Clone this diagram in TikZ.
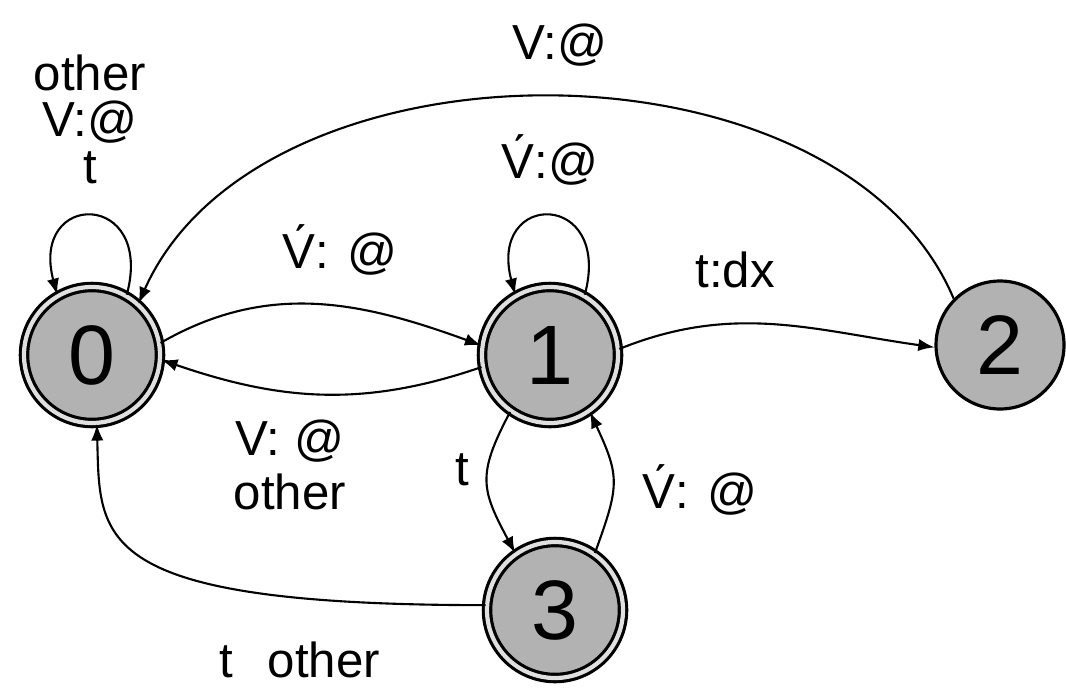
\documentclass[tikz,border=0pt]{standalone}
\usepackage{fontspec}
\setmainfont{Liberation Sans}
\usepackage{tikz}

\begin{document}
\begin{tikzpicture}[
  state/.style={circle, draw, line width=0.9pt, fill=black!30, minimum size=1.28cm, inner sep=0pt, font=\fontsize{24}{24}\selectfont},
  accept/.style={state, minimum size=1.36cm, double=black!12, double distance=1.2pt},
  lbl/.style={font=\fontsize{14}{13.2}\selectfont, align=center, inner sep=0pt},
  arc/.style={->, >=latex, line width=0.6pt}
]
\useasboundingbox (0, 0) rectangle (10.66, 6.89);

\node[accept] (s0) at (0.92, 3.34) {0};
\node[accept] (s1) at (5.50, 3.34) {1};
\node[state] (s2) at (10.00, 3.44) {2};
\node[accept] (s3) at (5.55, 0.79) {3};

\node[lbl] (l00) at (0.90, 5.70) {other\\V:@\\t};
\node[lbl] (l20) at (5.60, 6.44) {V:@};
\node[lbl] (l11) at (5.50, 5.29) {\'V:@};
\node[lbl] (l01) at (3.40, 4.39) {\'V: @};
\node[lbl] (l12) at (7.35, 4.19) {t:dx};
\node[lbl] (l10) at (2.90, 2.24) {V: @\\[2pt]other};
\node[lbl] (l13) at (4.62, 2.19) {t};
\node[lbl] (l31) at (7.00, 1.99) {\'V: @};
\node[lbl] (l30) at (3.00, 0.29) {t\hspace{0.7em}other};

\draw[arc] (s0.60) to[out=75, in=105, looseness=4] (s0.120);
\draw[arc] (s1.60) to[out=75, in=105, looseness=4] (s1.120);
\draw[arc] (s2.135) .. controls (8.4, 6.6) and (2.6, 6.6) .. (s0.48);
\draw[arc] (s0.10) to[out=30, in=160] (s1.172);
\draw[arc] (s1.190) to[out=199, in=-19] (s0.-4);
\draw[arc] (s1.5) to[out=22, in=172] (s2.182);
\draw[arc] (s1.235) to[out=242, in=118, looseness=1.3] (s3.125);
\draw[arc] (s3.55) to[out=70, in=-65, looseness=1.3] (s1.-55);
\draw[arc] (s3.176) .. controls (0.9, 0.84) and (1.0, 1.5) .. (s0.-86);
\end{tikzpicture}
\end{document}
